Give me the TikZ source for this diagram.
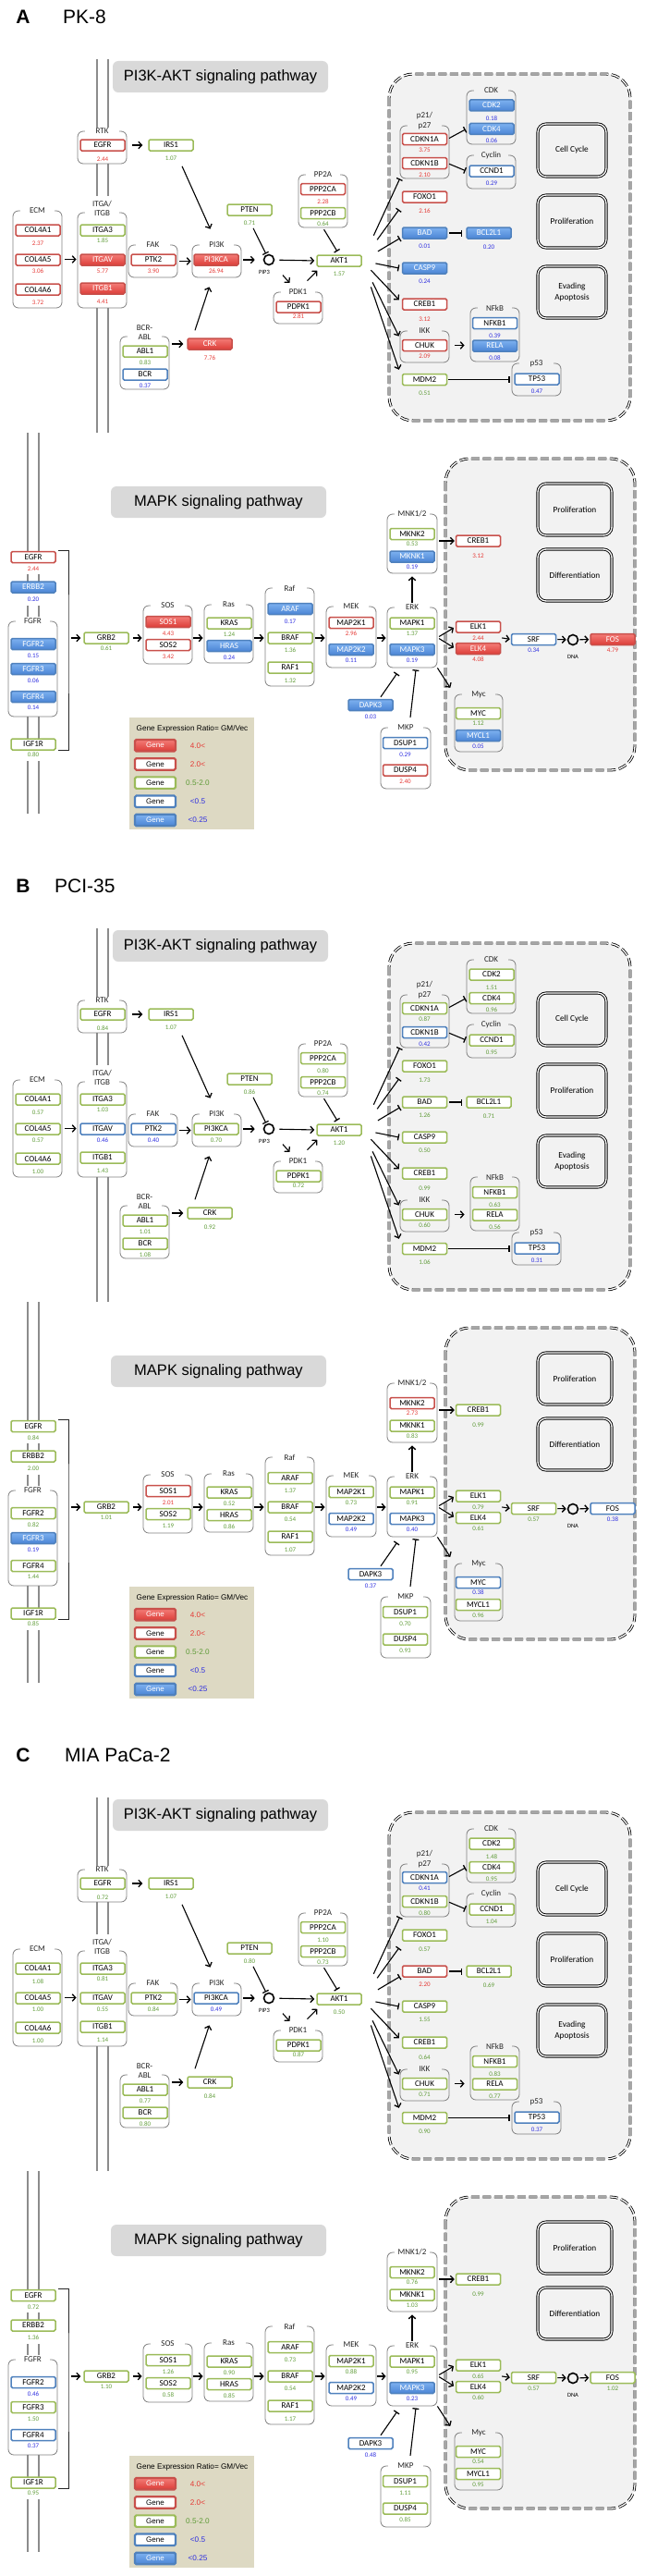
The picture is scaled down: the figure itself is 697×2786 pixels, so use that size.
\documentclass[tikz,border=0pt]{standalone}
\usepackage{fontspec}
\setmainfont{Carlito}
\newfontfamily\arialf{Liberation Sans}
\usetikzlibrary{arrows.meta,calc}

\definecolor{redln}{HTML}{C8504B}
\definecolor{redtop}{HTML}{F47C77}
\definecolor{redbot}{HTML}{DC3C37}
\definecolor{grnln}{HTML}{9BBB59}
\definecolor{bluln}{HTML}{4F81BD}
\definecolor{bluetop}{HTML}{7DB1F0}
\definecolor{bluebot}{HTML}{4A84D4}
\definecolor{vred}{HTML}{E53935}
\definecolor{vgreen}{HTML}{5F9B38}
\definecolor{vblue}{HTML}{2F2FE0}
\definecolor{cellbg}{HTML}{F2F2F2}
\definecolor{titlebg}{HTML}{D9D9D9}
\definecolor{legbg}{HTML}{DDD9C3}
\definecolor{grpln}{HTML}{808080}

\tikzset{
  gene/.style={rectangle, rounded corners=1.5pt, minimum width=48pt,
    minimum height=12pt, inner sep=0pt, line width=1.5pt, fill=white,
    font=\fontsize{9}{10}\selectfont},
  gRf/.style={draw=redln, top color=redtop, bottom color=redbot, text=white},
  gRl/.style={draw=redln},
  gGl/.style={draw=grnln},
  gBl/.style={draw=bluln},
  gBf/.style={draw=bluln, top color=bluetop, bottom color=bluebot, text=white},
  val/.style={inner sep=0pt, font=\fontsize{7}{8}\selectfont},
  grpbox/.style={draw=grpln, line width=0.8pt, rounded corners=6pt, inner sep=0pt},
  grplab/.style={inner sep=1pt, align=center, text=black!85,
    font=\fontsize{9}{10.5}\selectfont},
  titlebox/.style={fill=titlebg, rounded corners=6pt, minimum width=233pt,
    minimum height=34pt, font=\arialf\fontsize{16.5}{20}\selectfont},
  funcbox/.style={draw, line width=0.9pt, double=white, double distance=1.3pt,
    rounded corners=9pt, align=center, font=\fontsize{9.3}{11.5}\selectfont},
  cellbox/.style={draw, line width=0.8pt, double=white, double distance=1.3pt,
    dash pattern=on 9pt off 3.5pt, rounded corners=26pt, fill=cellbg},
  hub/.style={circle, draw, line width=1.6pt, minimum size=11pt, inner sep=0pt},
  tinylab/.style={inner sep=0pt, font=\fontsize{6.5}{7}\selectfont},
  memb/.style={draw=black!45, line width=1.5pt},
  brk/.style={draw=black!85, line width=0.9pt},
  act/.style={line width=1.1pt, -{Straight Barb[length=3.5pt,width=7.5pt,line width=1.3pt]}},
  inh/.style={line width=1.1pt, -{Bar[width=7pt,line width=1.3pt]}},
  plab/.style={inner sep=0pt, font=\arialf\fontsize{21}{25}\selectfont},
  legbox/.style={fill=legbg, minimum width=135pt, minimum height=121pt},
  leggene/.style={minimum width=44pt, minimum height=12.5pt, line width=2.2pt,
    font=\arialf\fontsize{8}{9}\selectfont},
  legtxt/.style={inner sep=0pt, font=\arialf\fontsize{8.2}{9}\selectfont},
}

% ratio -> box style and value colour
\newcommand\gclass[1]{%
  \ifdim#1pt>4pt \def\gst{gRf}\def\vcol{vred}%
  \else\ifdim#1pt>2pt \def\gst{gRl}\def\vcol{vred}%
  \else\ifdim#1pt<0.25pt \def\gst{gBf}\def\vcol{vblue}%
  \else\ifdim#1pt<0.5pt \def\gst{gBl}\def\vcol{vblue}%
  \else \def\gst{gGl}\def\vcol{vgreen}%
  \fi\fi\fi\fi}
\newcommand\setgv[2]{\foreach \k/\v in {#2}{\expandafter\xdef\csname gv@#1@\k\endcsname{\v}}}

% gene box with its ratio below: [value offset]{id}{label}{x}{y}
\newcommand\gn[5][12.5]{%
  \expandafter\let\expandafter\gval\csname gv@\pfx @#2\endcsname
  \gclass\gval
  \node[gene,\gst] (\pfx-#2) at (#4,\oy+#5) {#3};
  \node[val,text=\vcol] (\pfx-#2-v) at (#4,\oy+#5+#1) {\gval};}
% group frame: [label opts]{id}{label}{x1}{y1}{x2}{y2}{label bg}
\newcommand\grp[8][]{%
  \node[grpbox, minimum width=#6-#4, minimum height=#7-#5]
    (\pfx-g#2) at ({(#4+#6)/2},{\oy+(#5+#7)/2}) {};
  \node[grplab, fill=#8, minimum width=#6-#4-16, #1]
    (\pfx-g#2l) at ({(#4+#6)/2},\oy+#5) {#3};}
% membrane double line
\newcommand\memb[3]{\draw[memb] (#1,\oy+#2) -- (#1,\oy+#3) (#1+12,\oy+#2) -- (#1+12,\oy+#3);}

% ratios GM/Vec
\setgv{A}{EGFR/2.44,IRS1/1.07,COL4A1/2.37,COL4A5/3.06,COL4A6/3.72,ITGA3/1.85,ITGAV/5.77,ITGB1/4.41,PTK2/3.90,PI3KCA/26.94,PTEN/0.71,PPP2CA/2.28,PPP2CB/0.64,PDPK1/2.81,AKT1/1.57,ABL1/0.83,BCR/0.37,CRK/7.76,CDKN1A/3.75,CDKN1B/2.10,CDK2/0.18,CDK4/0.06,CCND1/0.29,FOXO1/2.16,BAD/0.01,BCL2L1/0.20,CASP9/0.24,CREB1/3.12,CHUK/2.09,NFKB1/0.39,RELA/0.08,MDM2/0.51,TP53/0.47}
\setgv{A}{mEGFR/2.44,ERBB2/0.20,FGFR2/0.15,FGFR3/0.06,FGFR4/0.14,IGF1R/0.80,GRB2/0.61,SOS1/4.43,SOS2/3.42,KRAS/1.24,HRAS/0.24,ARAF/0.17,BRAF/1.36,RAF1/1.32,MAP2K1/2.96,MAP2K2/0.11,MAPK1/1.37,MAPK3/0.19,MKNK2/0.53,MKNK1/0.19,DAPK3/0.03,DSUP1/0.29,DUSP4/2.40,mCREB1/3.12,ELK1/2.44,ELK4/4.08,SRF/0.34,FOS/4.79,MYC/1.12,MYCL1/0.05}
\setgv{B}{EGFR/0.84,IRS1/1.07,COL4A1/0.57,COL4A5/0.57,COL4A6/1.00,ITGA3/1.03,ITGAV/0.46,ITGB1/1.43,PTK2/0.40,PI3KCA/0.70,PTEN/0.86,PPP2CA/0.80,PPP2CB/0.74,PDPK1/0.72,AKT1/1.20,ABL1/1.01,BCR/1.08,CRK/0.92,CDKN1A/0.87,CDKN1B/0.42,CDK2/1.51,CDK4/0.96,CCND1/0.95,FOXO1/1.73,BAD/1.26,BCL2L1/0.71,CASP9/0.50,CREB1/0.99,CHUK/0.60,NFKB1/0.63,RELA/0.56,MDM2/1.06,TP53/0.31}
\setgv{B}{mEGFR/0.84,ERBB2/2.00,FGFR2/0.82,FGFR3/0.19,FGFR4/1.44,IGF1R/0.85,GRB2/1.01,SOS1/2.01,SOS2/1.19,KRAS/0.52,HRAS/0.86,ARAF/1.37,BRAF/0.54,RAF1/1.07,MAP2K1/0.73,MAP2K2/0.49,MAPK1/0.91,MAPK3/0.40,MKNK2/2.73,MKNK1/0.83,DAPK3/0.37,DSUP1/0.70,DUSP4/0.93,mCREB1/0.99,ELK1/0.79,ELK4/0.61,SRF/0.57,FOS/0.38,MYC/0.38,MYCL1/0.96}
\setgv{C}{EGFR/0.72,IRS1/1.07,COL4A1/1.08,COL4A5/1.00,COL4A6/1.00,ITGA3/0.81,ITGAV/0.55,ITGB1/1.14,PTK2/0.84,PI3KCA/0.49,PTEN/0.80,PPP2CA/1.10,PPP2CB/0.73,PDPK1/0.87,AKT1/0.50,ABL1/0.77,BCR/0.80,CRK/0.84,CDKN1A/0.41,CDKN1B/0.80,CDK2/1.48,CDK4/0.95,CCND1/1.04,FOXO1/0.57,BAD/2.20,BCL2L1/0.69,CASP9/1.55,CREB1/0.64,CHUK/0.71,NFKB1/0.83,RELA/0.77,MDM2/0.90,TP53/0.37}
\setgv{C}{mEGFR/0.72,ERBB2/1.36,FGFR2/0.46,FGFR3/1.50,FGFR4/0.37,IGF1R/0.95,GRB2/1.10,SOS1/1.26,SOS2/0.58,KRAS/0.90,HRAS/0.85,ARAF/0.73,BRAF/0.54,RAF1/1.17,MAP2K1/0.88,MAP2K2/0.49,MAPK1/0.95,MAPK3/0.23,MKNK2/0.76,MKNK1/1.03,DAPK3/0.48,DSUP1/1.11,DUSP4/0.85,mCREB1/0.99,ELK1/0.65,ELK4/0.60,SRF/0.57,FOS/1.02,MYC/0.54,MYCL1/0.95}

% one cell line: {prefix}{y offset}{letter}{name}{name x}
\newcommand\drawpanel[5]{%
  \def\pfx{#1}\def\oy{#2}%
  % heading
  \node[plab] (\pfx-lab) at (25,\oy+18) {\bfseries #3};
  \node[plab, anchor=west] (\pfx-name) at (#5,\oy+18) {#4};
  % membranes
  \memb{105}{64}{142}\memb{105}{177}{212}\memb{105}{333}{468}
  \memb{30}{468}{597}\memb{30}{621}{629}\memb{30}{655}{667}
  \memb{30}{775}{799}\memb{30}{823}{880}
  % cell compartments
  \draw[cellbox] (421,\oy+80) rectangle (682,\oy+455);
  \draw[cellbox] (482,\oy+496) rectangle (687,\oy+833);
  \node[titlebox] (\pfx-t1) at (238.5,\oy+83) {PI3K-AKT signaling pathway};
  \node[titlebox] (\pfx-t2) at (236.5,\oy+543) {MAPK signaling pathway};
  \node[funcbox, minimum width=74pt, minimum height=57pt] (\pfx-fCC) at (619,\oy+162.5) {Cell Cycle};
  \node[funcbox, minimum width=74pt, minimum height=57pt] (\pfx-fPR) at (619,\oy+239.5) {Proliferation};
  \node[funcbox, minimum width=74pt, minimum height=56pt] (\pfx-fEA) at (619,\oy+316) {Evading\\Apoptosis};
  \node[funcbox, minimum width=80pt, minimum height=56pt] (\pfx-fPR2) at (622,\oy+551) {Proliferation};
  \node[funcbox, minimum width=80pt, minimum height=56pt] (\pfx-fDF) at (622,\oy+622) {Differentiation};
  % PI3K-AKT groups
  \grp{RTK}{RTK}{84}{142}{137}{177}{white}
  \grp{ECM}{ECM}{14}{228}{67}{333}{white}
  \grp[anchor=south,yshift=-5pt]{ITG}{ITGA/\\ITGB}{84}{230}{137}{333}{white}
  \grp{FAK}{FAK}{139}{265}{192}{300}{white}
  \grp{PI3K}{PI3K}{208}{265}{261}{300}{white}
  \grp{PP2A}{PP2A}{323}{189}{376}{246}{white}
  \grp{PDK1}{PDK1}{296}{316}{349}{350}{white}
  \grp[anchor=south,yshift=-5pt]{BCRABL}{BCR-\\ABL}{130}{364}{183}{421}{white}
  \grp[anchor=south,yshift=-5pt]{P21}{p21/\\p27}{433}{136}{486}{193}{cellbg}
  \grp{CDK}{CDK}{505}{98}{558}{156}{cellbg}
  \grp{Cyc}{Cyclin}{505}{168}{558}{204}{cellbg}
  \grp{IKK}{IKK}{433}{358}{486}{392}{cellbg}
  \grp{NFkB}{NFkB}{509}{333}{562}{391}{cellbg}
  \grp{P53}{p53}{554}{393}{607}{428}{cellbg}
  % PI3K-AKT genes
  \gn[15]{EGFR}{EGFR}{111}{157}
  \gn[14]{IRS1}{IRS1}{185}{157}
  \gn[14]{COL4A1}{COL4A1}{41}{249}
  \gn{COL4A5}{COL4A5}{41}{281}
  \gn[14]{COL4A6}{COL4A6}{41}{313}
  \gn[11]{ITGA3}{ITGA3}{111}{249}
  \gn[12]{ITGAV}{ITGAV}{111}{281}
  \gn[14]{ITGB1}{ITGB1}{111}{312}
  \gn[12]{PTK2}{PTK2}{166}{281}
  \gn[12]{PI3KCA}{PI3KCA}{234}{281}
  \gn[14]{PTEN}{PTEN}{270}{227}
  \gn[13.5]{PPP2CA}{PPP2CA}{349.5}{204.5}
  \gn[11.5]{PPP2CB}{PPP2CB}{349.5}{230.5}
  \gn[10]{PDPK1}{PDPK1}{323}{332}
  \gn[14]{AKT1}{AKT1}{367}{282}
  \gn[12]{ABL1}{ABL1}{157}{380}
  \gn[12]{BCR}{BCR}{157}{405}
  \gn[15]{CRK}{CRK}{227}{372}
  \gn[11.5]{CDKN1A}{CDKN1A}{459.5}{150.5}
  \gn{CDKN1B}{CDKN1B}{459.5}{176.5}
  \gn[14]{CDK2}{CDK2}{532}{114}
  \gn{CDK4}{CDK4}{532}{139.5}
  \gn[13]{CCND1}{CCND1}{532}{185}
  \gn[15]{FOXO1}{FOXO1}{459.5}{213}
  \gn[14]{BAD}{BAD}{459.5}{252}
  \gn[15]{BCL2L1}{BCL2L1}{529}{252}
  \gn[14]{CASP9}{CASP9}{459.5}{290}
  \gn[16]{CREB1}{CREB1}{459.5}{329}
  \gn[11.5]{CHUK}{CHUK}{459.5}{373.5}
  \gn[13.5]{NFKB1}{NFKB1}{535.5}{349.5}
  \gn[13]{RELA}{RELA}{535.5}{374}
  \gn[14.5]{MDM2}{MDM2}{459.5}{410.5}
  \gn[13]{TP53}{TP53}{581}{410}
  \node[hub] (\pfx-PIP3) at (291,\oy+281) {};
  \node[tinylab] (\pfx-PIP3l) at (286,\oy+294) {PIP3};
  % PI3K-AKT links
  \draw[act, shorten <=7pt, shorten >=6pt] (\pfx-EGFR.east) -- (\pfx-IRS1.west);
  \draw[act] ($(\pfx-IRS1.south)+(12,16)$) -- ($(\pfx-gPI3K.north)+(-7,-17)$);
  \draw[act, shorten <=3pt, shorten >=1pt] (\pfx-gECM.east) -- (\pfx-gITG.west|-\pfx-gECM.east);
  \draw[act, shorten <=2pt, shorten >=1pt] (\pfx-gFAK.east) -- (\pfx-gPI3K.west|-\pfx-gFAK.east);
  \draw[act, shorten <=2pt, shorten >=9pt] (\pfx-gPI3K.east|-\pfx-PIP3) -- (\pfx-PIP3);
  \draw[inh, shorten >=1pt] ($(\pfx-PTEN.south)+(4,13)$) -- (\pfx-PIP3);
  \draw[act, shorten <=5pt, shorten >=2pt] (\pfx-PIP3) -- (\pfx-AKT1.west);
  \draw[act, shorten <=16pt, shorten >=8pt] (\pfx-PIP3) -- (\pfx-gPDK1l);
  \draw[act] ($(\pfx-gPDK1.north)+(10,-12)$) -- ($(\pfx-AKT1.south west)+(1,4)$);
  \draw[inh, shorten <=2pt, shorten >=4pt] (\pfx-gPP2A.south) -- (\pfx-AKT1.north);
  \draw[act, shorten <=3pt, shorten >=4pt] (\pfx-gBCRABL.east|-\pfx-CRK) -- (\pfx-CRK.west);
  \draw[act] ($(\pfx-CRK.north)+(-16,-8)$) -- ($(\pfx-gPI3K.south)+(-8,10)$);
  \draw[inh, shorten <=2pt, shorten >=1pt] (\pfx-CDKN1A.east) -- (\pfx-gCDK.west|-\pfx-CDK4);
  \draw[inh, shorten <=2pt, shorten >=1pt] (\pfx-CDKN1B.east) -- (\pfx-gCyc.west|-\pfx-CCND1);
  \draw[inh, shorten <=2pt, shorten >=4pt] (\pfx-BAD.east) -- (\pfx-BCL2L1.west);
  \draw[act, shorten <=8pt, shorten >=6pt] (\pfx-CHUK.east) -- (\pfx-gNFkB.west|-\pfx-CHUK);
  \draw[inh, shorten <=1pt, shorten >=2pt] (\pfx-MDM2.east) -- (\pfx-gP53.west|-\pfx-MDM2);
  % AKT1 targets
  \draw[inh, shorten <=30pt] (\pfx-AKT1.east) -- (\pfx-gP21.south west);
  \draw[inh, shorten <=28pt] (\pfx-AKT1.east) -- ($(\pfx-FOXO1.south west)+(-3,7)$);
  \draw[inh, shorten <=20pt] (\pfx-AKT1.east) -- ($(\pfx-BAD.south west)+(-2,-1)$);
  \draw[inh, shorten <=15pt] (\pfx-AKT1.east) -- ($(\pfx-CASP9.west)+(-3,0)$);
  \draw[act, shorten <=14pt] (\pfx-AKT1.east) -- ($(\pfx-CREB1.north west)+(-3,2)$);
  \draw[act, shorten <=26pt] (\pfx-AKT1.east) -- ($(\pfx-gIKK.north west)+(-1,6)$);
  \draw[act, shorten <=30pt] (\pfx-AKT1.east) -- ($(\pfx-MDM2.north west)+(-3,-4)$);
  % MAPK groups
  \grp{FGFR}{FGFR}{9}{672}{62}{775}{white}
  \grp{SOS}{SOS}{155}{655}{208}{718}{white}
  \grp{Ras}{Ras}{221}{654}{274}{717}{white}
  \grp{Raf}{Raf}{287}{636}{340}{742}{white}
  \grp{MEK}{MEK}{353}{656}{407}{722}{white}
  \grp{ERK}{ERK}{419}{657}{473}{722}{white}
  \grp{MNK}{MNK1/2}{419}{556}{473}{620}{white}
  \grp{Myc}{Myc}{492}{751}{544}{813}{cellbg}
  \grp{MKP}{MKP}{412}{787}{466}{853}{white}
  % MAPK genes
  \gn{mEGFR}{EGFR}{36}{602.5}
  \gn[13]{ERBB2}{ERBB2}{36}{635}
  \gn{FGFR2}{FGFR2}{36}{696.5}
  \gn{FGFR3}{FGFR3}{36}{723.5}
  \gn[12]{FGFR4}{FGFR4}{36}{753.5}
  \gn[11]{IGF1R}{IGF1R}{36}{805}
  \gn[11]{GRB2}{GRB2}{115}{690}
  \gn{SOS1}{SOS1}{182}{672.5}
  \gn{SOS2}{SOS2}{182}{697.5}
  \gn[12]{KRAS}{KRAS}{248}{674}
  \gn{HRAS}{HRAS}{248}{698.5}
  \gn[13.5]{ARAF}{ARAF}{314}{658.5}
  \gn[13]{BRAF}{BRAF}{314}{690}
  \gn[14]{RAF1}{RAF1}{314}{722}
  \gn[11.5]{MAP2K1}{MAP2K1}{380}{673.5}
  \gn[11.5]{MAP2K2}{MAP2K2}{380}{702.5}
  \gn[11]{MAPK1}{MAPK1}{446}{674}
  \gn[11.5]{MAPK3}{MAPK3}{446}{702.5}
  \gn[10.5]{MKNK2}{MKNK2}{446}{577.5}
  \gn[11]{MKNK1}{MKNK1}{446}{602}
  \gn[16]{mCREB1}{CREB1}{517.5}{585}
  \gn[12]{ELK1}{ELK1}{517.5}{678}
  \gn[11.5]{ELK4}{ELK4}{517.5}{701.5}
  \gn[11.5]{SRF}{SRF}{577.5}{691.5}
  \gn[11.5]{FOS}{FOS}{663}{691.5}
  \gn[10.5]{MYC}{MYC}{517.5}{771.5}
  \gn[11.5]{MYCL1}{MYCL1}{517.5}{795.5}
  \gn{DAPK3}{DAPK3}{401}{762.5}
  \gn{DSUP1}{DSUP1}{438.5}{803.5}
  \gn[12]{DUSP4}{DUSP4}{438.5}{833}
  \node[hub] (\pfx-DNA) at (620,\oy+692) {};
  \node[tinylab] (\pfx-DNAl) at (620,\oy+710) {DNA};
  % MAPK links
  \coordinate (\pfx-brk) at (74,\oy+690);
  \draw[brk] ($(\pfx-mEGFR.north east)+(2,0)$) -| (\pfx-brk) |- ($(\pfx-IGF1R.south east)+(2,0)$);
  \draw[act, shorten <=3pt, shorten >=3pt] (\pfx-brk) -- (\pfx-GRB2.west);
  \draw[act, shorten <=4pt, shorten >=1pt] (\pfx-GRB2.east) -- (\pfx-gSOS.west|-\pfx-GRB2);
  \draw[act, shorten <=1pt, shorten >=1pt] (\pfx-gSOS.east|-\pfx-GRB2) -- (\pfx-gRas.west|-\pfx-GRB2);
  \draw[act, shorten <=1pt, shorten >=1pt] (\pfx-gRas.east|-\pfx-GRB2) -- (\pfx-gRaf.west|-\pfx-GRB2);
  \draw[act, shorten <=1pt, shorten >=1pt] (\pfx-gRaf.east|-\pfx-GRB2) -- (\pfx-gMEK.west|-\pfx-GRB2);
  \draw[act, shorten <=1pt, shorten >=1pt] (\pfx-gMEK.east|-\pfx-GRB2) -- (\pfx-gERK.west|-\pfx-GRB2);
  \draw[act, shorten <=1pt, shorten >=3pt] (\pfx-gERKl.north) -- (\pfx-gMNK.south);
  \draw[act, shorten <=2pt, shorten >=1pt] (\pfx-gMNK.east|-\pfx-mCREB1) -- (\pfx-mCREB1.west);
  \draw[act, shorten <=2pt, shorten >=2pt] (\pfx-gERK.east) -- (\pfx-ELK1.west);
  \draw[act, shorten <=2pt, shorten >=2pt] (\pfx-gERK.east) -- (\pfx-ELK4.west);
  \draw[act, shorten >=8pt] (\pfx-gERK.south east) -- (\pfx-gMyc.north west);
  \draw[act, shorten <=1pt, shorten >=1pt] ($(\pfx-ELK1.east)!0.5!(\pfx-ELK4.east)$) -- (\pfx-SRF.west);
  \draw[act, shorten <=1pt, shorten >=1pt] (\pfx-SRF.east) -- (\pfx-DNA);
  \draw[act, shorten <=1pt, shorten >=1pt] (\pfx-DNA) -- (\pfx-FOS.west);
  \draw[inh] ($(\pfx-DAPK3.north)+(11,-2)$) -- ($(\pfx-gERK.south west)+(11,6)$);
  \draw[inh] ($(\pfx-gMKPl.north)+(5,-7)$) -- ($(\pfx-gERK.south)+(4,2)$);
  % legend
  \node[legbox] (\pfx-leg) at (207.5,\oy+836.5) {};
  \node[legtxt] (\pfx-legt) at (208,\oy+788) {Gene Expression Ratio= GM/Vec};
  \foreach \st/\tc/\lt [count=\i] in {gRf/vred/4.0<,gRl/vred/2.0<,gGl/vgreen/0.5-2.0,gBl/vblue/<0.5,gBf/vblue/<0.25}{
    \node[gene,\st,leggene] (\pfx-lg\i) at (168,\oy+786+20.2*\i) {Gene};
    \node[legtxt,text=\tc] (\pfx-lt\i) at (214,\oy+786+20.2*\i) {\lt};
  }
}

\begin{document}
\begin{tikzpicture}[x=1pt, y=-1pt]
  \useasboundingbox (0,0) rectangle (697,2786);
  \drawpanel{A}{0}{A}{PK-8}{68}
  \drawpanel{B}{940}{B}{PCI-35}{59}
  \drawpanel{C}{1880}{C}{MIA PaCa-2}{70}
\end{tikzpicture}
\end{document}
